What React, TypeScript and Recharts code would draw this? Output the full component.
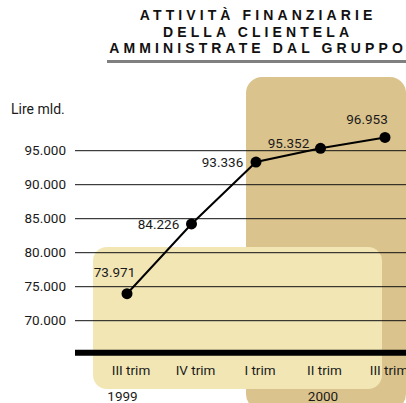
import React from "react";
import { LineChart, Line, XAxis, YAxis, ReferenceLine, LabelList } from "recharts";

const quarters = ["III trim", "IV trim", "I trim", "II trim", "III trim"];
const years = ["1999", "", "", "2000", ""];
const values = [73971, 84226, 93336, 95352, 96953];
const valueLabels = ["73.971", "84.226", "93.336", "95.352", "96.953"];
const yTicks = [70000, 75000, 80000, 85000, 90000, 95000];
const yTickLabels = ["70.000", "75.000", "80.000", "85.000", "90.000", "95.000"];
const titleLines = ["ATTIVITÀ FINANZIARIE", "DELLA CLIENTELA", "AMMINISTRATE DAL GRUPPO"];
const unitLabel = "Lire mld.";

const data = quarters.map((q, i) => ({ idx: i, q, v: values[i], label: valueLabels[i], year: years[i] }));

const FONT = "Roboto, 'Liberation Sans', sans-serif";
const TEXT = "#1a1a1a";

const LABEL_OFFSETS = [
  [-12.5, -22],
  [-33, 0],
  [-33.5, 0],
  [-32, -5],
  [-18, -18],
];

const ValueLabel = (props: any) => {
  const { x, y, index } = props;
  const [dx, dy] = LABEL_OFFSETS[index] || [0, -15];
  return (
    <text
      x={x + dx}
      y={y + dy}
      textAnchor="middle"
      dominantBaseline="central"
      fontSize={13.5}
      fontFamily={FONT}
      fill={TEXT}
    >
      {valueLabels[index]}
    </text>
  );
};

const XTick = (props: any) => {
  const { x, y, index } = props;
  const yearDx = index === 0 ? -4.5 : 2.5;
  return (
    <g>
      <text x={x + 4} y={y + 22} textAnchor="middle" fontSize={13.5} fontFamily={FONT} fill={TEXT}>
        {quarters[index]}
      </text>
      {years[index] ? (
        <text x={x + yearDx} y={y + 48.5} textAnchor="middle" fontSize={13.5} fontFamily={FONT} fill={TEXT}>
          {years[index]}
        </text>
      ) : null}
    </g>
  );
};

export default function App() {
  return (
    <div
      style={{
        position: "absolute",
        left: 0,
        top: 0,
        width: 406,
        height: 403,
        overflow: "hidden",
        background: "#ffffff",
        fontFamily: FONT,
      }}
    >
      <div
        style={{
          position: "absolute",
          left: 246,
          top: 77,
          width: 160,
          height: 333,
          background: "#DBC38D",
          borderRadius: 16,
        }}
      />
      <div
        style={{
          position: "absolute",
          left: 93,
          top: 247,
          width: 289,
          height: 142,
          background: "#F2E6B5",
          borderRadius: 14,
        }}
      />
      <div
        style={{
          position: "absolute",
          left: 99,
          top: 7,
          width: 310,
          textAlign: "center",
          fontFamily: "'Liberation Sans', Arial, sans-serif",
          fontWeight: "bold",
          fontSize: 14,
          lineHeight: "16.5px",
          letterSpacing: "4.1px",
          paddingLeft: 4.1,
          color: "#111",
        }}
      >
        {titleLines.map((t, i) => (
          <div key={i} style={{ whiteSpace: "nowrap" }}>{t}</div>
        ))}
      </div>
      <div
        style={{
          position: "absolute",
          left: 107,
          top: 60,
          width: 299,
          height: 3,
          background: "#808080",
        }}
      />
      <div
        style={{
          position: "absolute",
          left: 11,
          top: 100,
          fontSize: 14,
          lineHeight: "18px",
          color: TEXT,
          fontFamily: FONT,
        }}
      >
        {unitLabel}
      </div>
      <LineChart
        width={406}
        height={403}
        data={data}
        margin={{ top: 116.7, right: 0, bottom: 0, left: 0 }}
        style={{ position: "absolute", left: 0, top: 0 }}
      >
        <YAxis
          type="number"
          domain={[65300, 100000]}
          ticks={yTicks}
          width={75}
          axisLine={false}
          tickLine={false}
          tickSize={0}
          tickMargin={9}
          interval={0}
          tickFormatter={(v: number) => yTickLabels[yTicks.indexOf(v)] ?? String(v)}
          tick={{ fontSize: 13.5, fontFamily: FONT, fill: TEXT }}
        />
        <XAxis
          dataKey="idx"
          type="category"
          height={50.34}
          padding={{ left: 52, right: 21 }}
          axisLine={{ stroke: "#000", strokeWidth: 6 }}
          tickLine={false}
          tickSize={0}
          tickMargin={0}
          interval={0}
          tick={<XTick />}
        />
        {yTicks.map((t) => (
          <ReferenceLine key={t} y={t} stroke="#111" strokeWidth={1} />
        ))}
        <Line
          type="linear"
          dataKey="v"
          stroke="#000"
          strokeWidth={2}
          dot={{ r: 5.5, fill: "#000", stroke: "#000", strokeWidth: 0 }}
          isAnimationActive={false}
        >
          <LabelList dataKey="v" content={<ValueLabel />} />
        </Line>
      </LineChart>
    </div>
  );
}
